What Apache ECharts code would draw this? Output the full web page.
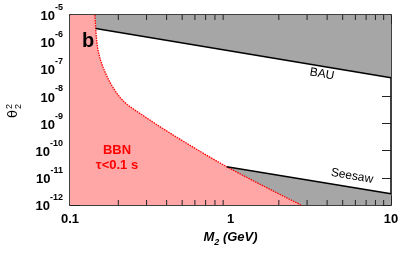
<!DOCTYPE html>
<html>
<head>
<meta charset="utf-8">
<script src="https://cdn.jsdelivr.net/npm/echarts@6/dist/echarts.min.js"></script>
<style>html,body{margin:0;padding:0;background:#fff}#c{width:415px;height:261px}</style>
</head>
<body>
<div id="c"></div>
<script>
// ---- data ----
const X_MIN = 0.1, X_MAX = 10;
const Y_MIN = 1e-12, Y_MAX = 1e-5;
const xTickLabels = ['0.1', '1', '10'];
const yExponents = [-12, -11, -10, -9, -8, -7, -6, -5];
const xMinorTicks = [0.2, 0.3, 0.4, 0.5, 0.6, 0.7, 0.8, 0.9, 2, 3, 4, 5, 6, 7, 8, 9];

// BBN boundary (tau < 0.1 s)
const bbnM     = [0.143, 0.1443, 0.1455, 0.147, 0.1485, 0.150, 0.1525, 0.155, 0.158, 0.162, 0.1655,
                  0.1693, 0.1745, 0.180, 0.187, 0.1954, 0.205, 0.215, 0.227, 0.24, 0.254, 0.30,
                  0.36, 0.44, 0.55, 0.711, 0.947, 1.2, 1.5, 2.0, 2.75];
const bbnTheta = [1e-5, 3.98e-6, 1.91e-6, 1.0e-6, 6.46e-7, 4.57e-7, 3.02e-7, 2.19e-7, 1.55e-7, 1.05e-7, 7.76e-8,
                  5.75e-8, 3.98e-8, 2.82e-8, 1.95e-8, 1.33e-8, 9.23e-9, 6.76e-9, 5.07e-9, 3.94e-9, 3.13e-9, 1.62e-9,
                  7.94e-10, 3.76e-10, 1.68e-10, 6.76e-11, 2.57e-11, 1.22e-11, 6.12e-12, 2.57e-12, 1e-12];
// BAU upper bound
const bauM     = [0.1445, 10];
const bauTheta = [3.2e-6, 4.9e-8];
// Seesaw lower bound
const seesawM     = [0.947, 10];
const seesawTheta = [2.57e-11, 2.6e-12];

// ---- helpers ----
function pts(xs, ys) { return xs.map((x, i) => [x, ys[i]]); }
function polySeries(points, color, z) {
  return {
    type: 'custom', coordinateSystem: 'cartesian2d', z: z, silent: true,
    data: [[points[0][0], points[0][1]]],
    renderItem: function (params, api) {
      return { type: 'polygon', shape: { points: points.map(p => api.coord(p)) },
               style: { fill: color, stroke: null } };
    }
  };
}
function tickSeries(values, atY, dir, len) {
  return {
    type: 'custom', coordinateSystem: 'cartesian2d', z: 20, silent: true,
    data: values.map(v => [v, atY]),
    renderItem: function (params, api) {
      const p = api.coord([api.value(0), api.value(1)]);
      return { type: 'line', shape: { x1: p[0], y1: p[1], x2: p[0], y2: p[1] + dir * len },
               style: { stroke: '#222', lineWidth: 1 } };
    }
  };
}

const bbnPts = pts(bbnM, bbnTheta);
const pinkPoly = [[X_MIN, Y_MAX]].concat(bbnPts).concat([[X_MIN, Y_MIN]]);
const bauPts = pts(bauM, bauTheta);
const bauPoly = [[bbnM[0], Y_MAX], [X_MAX, Y_MAX]].concat(bauPts.slice().reverse());
const seePts = pts(seesawM, seesawTheta);
const seePoly = seePts.concat([[X_MAX, Y_MIN], [seesawM[0], Y_MIN]]);

const FONT = 'Liberation Sans, Arial, Helvetica, sans-serif';
const chart = echarts.init(document.getElementById('c'), null, { renderer: 'canvas' });

const axisLineStyle = { color: '#000', width: 1.5 };
chart.setOption({
  animation: false,
  backgroundColor: '#fff',
  textStyle: { fontFamily: FONT },
  grid: { left: 70, right: 24, top: 15, bottom: 56 },
  xAxis: [{
    type: 'log', logBase: 10, min: X_MIN, max: X_MAX, position: 'bottom',
    axisLine: { show: true, lineStyle: axisLineStyle },
    axisTick: { show: true, inside: true, length: 9, lineStyle: { color: '#222', width: 1 } },
    splitLine: { show: false },
    axisLabel: {
      margin: 8, color: '#000', fontFamily: FONT, fontWeight: 'bold', fontSize: 13,
      formatter: function (v) {
        const e = Math.round(Math.log10(v));
        return xTickLabels[e + 1];
      }
    },
    name: '{i|M}{s|2}{i| (GeV)}', nameLocation: 'middle', nameGap: 18,
    nameTextStyle: {
      rich: {
        i: { fontFamily: FONT, fontSize: 13, fontWeight: 'bold', fontStyle: 'italic', color: '#000', lineHeight: 16, verticalAlign: 'top' },
        s: { fontFamily: FONT, fontSize: 9, fontWeight: 'bold', fontStyle: 'italic', color: '#000', lineHeight: 10, verticalAlign: 'bottom' }
      }
    }
  }, {
    type: 'log', logBase: 10, min: X_MIN, max: X_MAX, position: 'top',
    axisLine: { show: true, lineStyle: axisLineStyle },
    axisTick: { show: true, inside: true, length: 9, lineStyle: { color: '#222', width: 1 } },
    axisLabel: { show: false }, splitLine: { show: false }
  }],
  yAxis: [{
    type: 'log', logBase: 10, min: Y_MIN, max: Y_MAX, position: 'left', interval: 1, splitNumber: 7,
    axisLine: { show: true, lineStyle: axisLineStyle },
    axisTick: { show: true, inside: true, length: 10, lineStyle: { color: '#222', width: 1 } },
    splitLine: { show: false },
    axisLabel: {
      margin: 7, padding: [0, 0, 4, 0],
      formatter: function (v) {
        const e = Math.round(Math.log10(v));
        if (yExponents.indexOf(e) < 0) return '';
        return '{b|10}{e|' + e + '}';
      },
      rich: {
        b: { fontFamily: FONT, fontSize: 13, fontWeight: 'bold', color: '#000', lineHeight: 20, verticalAlign: 'bottom' },
        e: { fontFamily: FONT, fontSize: 9, fontWeight: 'bold', color: '#000', lineHeight: 10, verticalAlign: 'top' }
      }
    }
  }, {
    type: 'log', logBase: 10, min: Y_MIN, max: Y_MAX, position: 'right', interval: 1, splitNumber: 7,
    axisLine: { show: true, lineStyle: axisLineStyle },
    axisTick: { show: true, inside: true, length: 9, lineStyle: { color: '#222', width: 1 } },
    axisLabel: { show: false }, splitLine: { show: false }
  }],
  series: [
    polySeries(bauPoly, '#a6a6a6', 1),
    polySeries(seePoly, '#a6a6a6', 1),
    polySeries(pinkPoly, '#ffa6a6', 2),
    { type: 'line', data: bbnPts, z: 5, symbol: 'none', silent: true,
      lineStyle: { color: '#ff0000', width: 1.3, type: [1.5, 1] } },
    { type: 'line', data: bauPts, z: 6, symbol: 'none', silent: true,
      lineStyle: { color: '#000', width: 1.5 } },
    { type: 'line', data: seePts, z: 6, symbol: 'none', silent: true,
      lineStyle: { color: '#000', width: 1.5 } },
    tickSeries(xMinorTicks, Y_MIN, -1, 5),
    tickSeries(xMinorTicks, Y_MAX, 1, 5)
  ],
  graphic: [
    { type: 'text', left: 82, top: 31, z: 50,
      style: { text: 'b', font: 'bold 20px ' + FONT, fill: '#000' } },
    { type: 'text', x: 117, y: 150, z: 50,
      style: { text: 'BBN', font: 'bold 13px ' + FONT, fill: '#ff0000', align: 'center', verticalAlign: 'middle' } },
    { type: 'text', x: 117, y: 165, z: 50,
      style: { text: 'τ<0.1 s', font: 'bold 13px ' + FONT, fill: '#ff0000', align: 'center', verticalAlign: 'middle' } },
    { type: 'text', x: 322, y: 74, rotation: -0.17, z: 50,
      style: { text: 'BAU', font: '12px ' + FONT, fill: '#000', align: 'center', verticalAlign: 'middle' } },
    { type: 'text', x: 352, y: 176, rotation: -0.17, z: 50,
      style: { text: 'Seesaw', font: '12px ' + FONT, fill: '#000', align: 'center', verticalAlign: 'middle' } },
    { type: 'group', x: 14, y: 110, rotation: Math.PI / 2, z: 50, children: [
      { type: 'text', x: 0, y: 0,
        style: { text: 'θ', font: '13px DejaVu Sans, ' + FONT, fill: '#000', align: 'right', verticalAlign: 'middle' } },
      { type: 'text', x: 1, y: -4,
        style: { text: '2', font: '9px ' + FONT, fill: '#000', align: 'left', verticalAlign: 'middle' } },
      { type: 'text', x: 1, y: 5,
        style: { text: '2', font: '9px ' + FONT, fill: '#000', align: 'left', verticalAlign: 'middle' } }
    ] }
  ]
});
</script>
</body>
</html>
